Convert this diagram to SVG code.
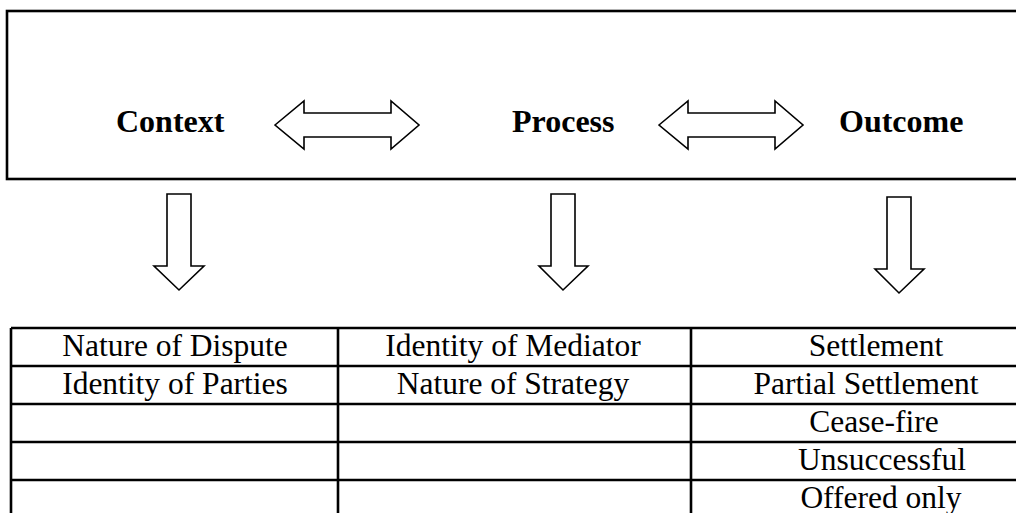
<svg xmlns="http://www.w3.org/2000/svg" width="1016" height="513" viewBox="0 0 1016 513">
<style>
.frame{fill:none;stroke:#000;stroke-width:2.6}
.arrow{fill:#fff;stroke:#000;stroke-width:1.6;stroke-linejoin:miter}
.head{font-family:"Liberation Serif","Times New Roman",serif;font-weight:bold;font-size:32px;fill:#000}
.cell{font-family:"Liberation Serif","Times New Roman",serif;font-size:31.5px;fill:#000;text-anchor:middle}
</style>
<rect width="1016" height="513" fill="#fff"/>
<g id="header">
<rect class="frame" x="7" y="11" width="1030" height="168"/>
<text class="head" x="116" y="132">Context</text>
<text class="head" x="512" y="132">Process</text>
<text class="head" x="839" y="132">Outcome</text>
</g>
<g id="connectors">
<polygon class="arrow" points="275,125 304,101 304,113 391,113 391,101 419,125 391,149 391,137 304,137 304,149"/>
<polygon class="arrow" points="659,125 688,101 688,113 775,113 775,101 803,125 775,149 775,137 688,137 688,149"/>
<polygon class="arrow" points="167,194 191,194 191,266 204,266 179,290 154,266 167,266"/>
<polygon class="arrow" points="551,194 575,194 575,266 588,266 563,290 539,266 551,266"/>
<polygon class="arrow" points="887,197 911,197 911,269 924,269 899,293 875,269 887,269"/>
</g>
<g id="table">
<path class="frame" d="M11,328 H1030 M11,366 H1030 M11,404 H1030 M11,442 H1030 M11,480 H1030 M11,328 V520 M338,328 V520 M691,328 V520"/>
</g>
<g id="context-cells">
<text class="cell" x="175" y="356">Nature of Dispute</text>
<text class="cell" x="175" y="394">Identity of Parties</text>
</g>
<g id="process-cells">
<text class="cell" x="513" y="356">Identity of Mediator</text>
<text class="cell" x="513" y="394">Nature of Strategy</text>
</g>
<g id="outcome-cells">
<text class="cell" x="876" y="356">Settlement</text>
<text class="cell" x="866" y="394">Partial Settlement</text>
<text class="cell" x="874" y="432">Cease-fire</text>
<text class="cell" x="882" y="470">Unsuccessful</text>
<text class="cell" x="881" y="508">Offered only</text>
</g>
</svg>
